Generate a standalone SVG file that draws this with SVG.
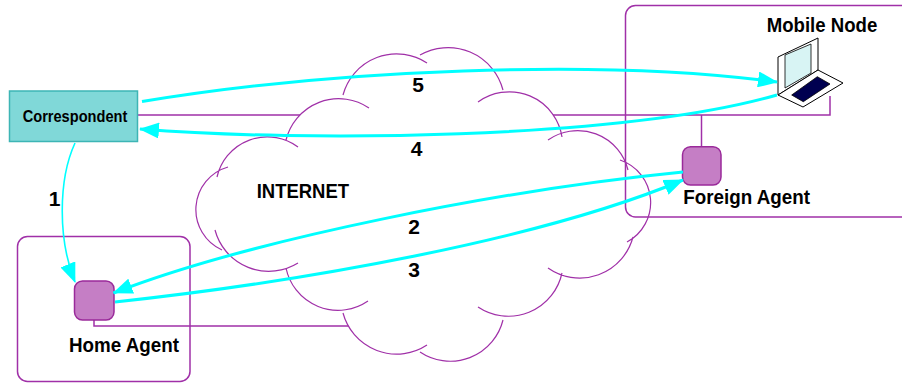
<svg xmlns="http://www.w3.org/2000/svg" width="902" height="383" viewBox="0 0 902 383">
<style>
.wire{fill:none;stroke:#a030a8;stroke-width:1.5}
.box{fill:none;stroke:#a030a8;stroke-width:1.5}
.agent{fill:#c57ec5;stroke:#9a2a9a;stroke-width:1.5}
.arcs{fill:none;stroke:#a030a8;stroke-width:1.2}
.flow{fill:none;stroke:#00ffff;stroke-width:3}
.flow1{fill:none;stroke:#00ffff;stroke-width:1.6}
.lbl{font-family:"Liberation Sans",Arial,sans-serif;font-weight:bold;font-size:21px;fill:#000}
</style>
<defs>
<marker id="ah" viewBox="0 0 20 16" refX="19" refY="8" markerWidth="20" markerHeight="16" markerUnits="userSpaceOnUse" orient="auto">
<path d="M0,0 L20,8 L0,16 Z" fill="#00ffff"/>
</marker>
</defs>
<rect width="902" height="383" fill="#ffffff"/>
<g id="links">
<path class="wire" d="M138,115 H830 V96"/>
<path class="wire" d="M701.5,147 V115"/>
<path class="wire" d="M94,320 V326 H360"/>
</g>
<g id="internet">
<path fill="#ffffff" stroke="none" d="M343,95 A55.5,55.5 0 0 1 427,63 L420,55 A56.8,56.8 0 0 1 503,90 L478,102 A53.3,53.3 0 0 1 562,137 L548,140 A51.8,51.8 0 0 1 628,170 L620,160 A44.8,44.8 0 0 1 627,242 L633,237 A55.1,55.1 0 0 1 548,268 L562,273 A54.8,54.8 0 0 1 478,307 L503,320 A54.3,54.3 0 0 1 420,352 L427,345 A55.5,55.5 0 0 1 343,313 L368,301 A53.1,53.1 0 0 1 286,268 L298,263 A55.6,55.6 0 0 1 215,230 L222,250 A44.3,44.3 0 0 1 228,167 L217,177 A51.6,51.6 0 0 1 298,147 L286,140 A54.2,54.2 0 0 1 369,108 Z"/>
<path class="arcs" d="M343,95 A55.5,55.5 0 0 1 427,63 M420,55 A56.8,56.8 0 0 1 503,90 M478,102 A53.3,53.3 0 0 1 562,137 M548,140 A51.8,51.8 0 0 1 628,170 M620,160 A44.8,44.8 0 0 1 627,242 M633,237 A55.1,55.1 0 0 1 548,268 M562,273 A54.8,54.8 0 0 1 478,307 M503,320 A54.3,54.3 0 0 1 420,352 M427,345 A55.5,55.5 0 0 1 343,313 M368,301 A53.1,53.1 0 0 1 286,268 M298,263 A55.6,55.6 0 0 1 215,230 M222,250 A44.3,44.3 0 0 1 228,167 M217,177 A51.6,51.6 0 0 1 298,147 M286,140 A54.2,54.2 0 0 1 369,108"/>
<text class="lbl" x="256.7" y="198" textLength="92.3" lengthAdjust="spacingAndGlyphs">INTERNET</text>
</g>
<g id="correspondent">
<rect x="9.5" y="91" width="128" height="50.5" fill="#80d8d8" stroke="#3db5b5" stroke-width="1.5"/>
<text class="lbl" x="22.7" y="121.7" style="font-size:16px" textLength="104.6" lengthAdjust="spacingAndGlyphs">Correspondent</text>
</g>
<g id="home-agent">
<rect class="box" x="17.5" y="236.5" width="172.5" height="145" rx="10"/>
<rect class="agent" x="74.5" y="281" width="39.5" height="39" rx="8"/>
<text class="lbl" x="69" y="351.7" textLength="110" lengthAdjust="spacingAndGlyphs">Home Agent</text>
</g>
<g id="foreign-agent">
<rect class="box" x="625.5" y="5.5" width="300" height="211.5" rx="10"/>
<rect class="agent" x="682.5" y="146.7" width="38.5" height="38.3" rx="8"/>
<text class="lbl" x="683.3" y="204" textLength="126.7" lengthAdjust="spacingAndGlyphs">Foreign Agent</text>
</g>
<g id="mobile-node">
<polygon points="778,95 778,57 818,38 818,70" fill="#ffffff" stroke="#000" stroke-width="1"/>
<polygon points="785,88 785,55 811,44 811,73" fill="#d8f4f4" stroke="#000" stroke-width="0.8"/>
<polygon points="778,95 803,107 843,83 818,70" fill="#ffffff" stroke="#000" stroke-width="1"/>
<polygon points="791.7,95 803.3,101.7 830,84 817.3,76.7" fill="#000050" stroke="#000" stroke-width="0.8"/>
<text class="lbl" x="766.7" y="31.7" textLength="110.6" lengthAdjust="spacingAndGlyphs">Mobile Node</text>
</g>
<g id="connectors">
<path class="flow" marker-end="url(#ah)" d="M142,101.5 C330,70 600,58 777,82"/>
<path class="flow" marker-end="url(#ah)" d="M777,95 C620,140 300,142 140,129"/>
<path class="flow" marker-end="url(#ah)" d="M683,172 C500,190 250,240 113.5,293"/>
<path class="flow" marker-end="url(#ah)" d="M115,302 C300,282 540,240 683,180"/>
<path class="flow1" marker-end="url(#ah)" d="M75,143 C58,180 58,240 75,282"/>
<text class="lbl" x="54.5" y="205.5" text-anchor="middle">1</text>
<text class="lbl" x="414" y="234" text-anchor="middle">2</text>
<text class="lbl" x="414" y="276.5" text-anchor="middle">3</text>
<text class="lbl" x="416.7" y="155.5" text-anchor="middle">4</text>
<text class="lbl" x="418" y="92" text-anchor="middle">5</text>
</g>
</svg>
